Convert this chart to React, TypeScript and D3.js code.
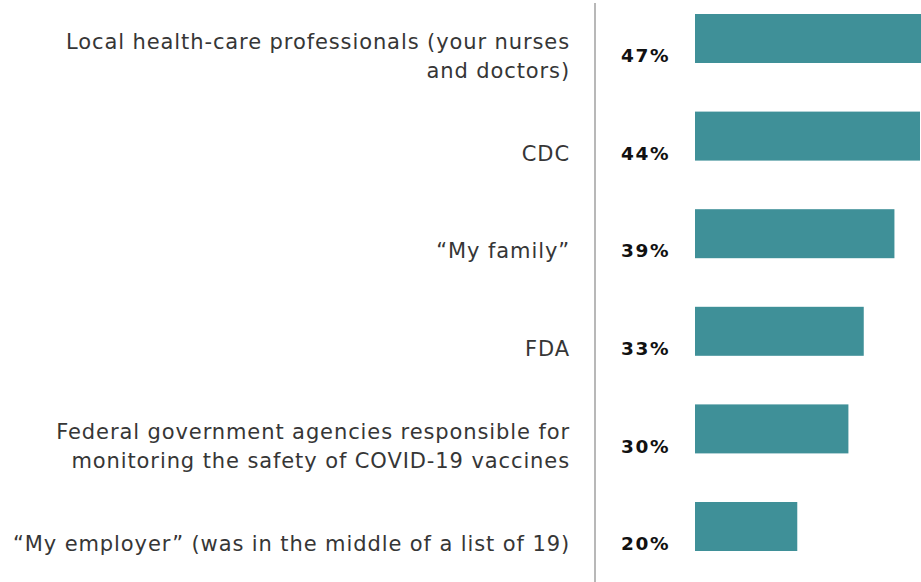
import React from 'react';
import * as d3 from 'd3';

// Survey answers
const categories: string[][] = [
  ['Local health-care professionals (your nurses', 'and doctors)'],
  ['CDC'],
  ['\u201cMy family\u201d'],
  ['FDA'],
  ['Federal government agencies responsible for', 'monitoring the safety of COVID-19 vaccines'],
  ['\u201cMy employer\u201d (was in the middle of a list of 19)'],
];
const values = [47, 44, 39, 33, 30, 20];

const width = 921;
const height = 582;
const barColor = '#3f9098';

const App: React.FC = () => {
  const keys = categories.map((c) => c.join(' '));

  const xScale = d3.scaleLinear().domain([0, 44]).range([695, 920]);
  const yScale = d3.scalePoint<string>().domain(keys).range([38.5, 526.5]);

  const barHeight = 49;
  const labelShift = 17;
  const lineGap = 29;

  return (
    <svg
      width={width}
      height={height}
      style={{ position: 'absolute', left: 0, top: 0, background: '#fff' }}
    >
      <line x1={595} x2={595} y1={3} y2={height} stroke="#a0a0a0" strokeWidth={1.5} />
      {keys.map((k, i) => {
        const cy = yScale(k) ?? 0;
        const lines = categories[i];
        const ly = cy + labelShift;
        return (
          <g key={k}>
            <rect
              x={xScale(0)}
              y={cy - barHeight / 2}
              width={xScale(values[i]) - xScale(0)}
              height={barHeight}
              fill={barColor}
            />
            <text
              x={621}
              y={ly}
              dy="0.36em"
              fontFamily="DejaVu Sans"
              fontWeight={700}
              fontSize={18.5}
              letterSpacing={1.6}
              fill="#111"
            >
              {values[i]}%
            </text>
            {lines.map((t, j) => (
              <text
                key={j}
                x={570}
                y={ly + (j - (lines.length - 1) / 2) * lineGap}
                dy="0.36em"
                textAnchor="end"
                fontFamily="DejaVu Sans"
                fontSize={21}
                letterSpacing={0.9}
                fill="#363636"
              >
                {t}
              </text>
            ))}
          </g>
        );
      })}
    </svg>
  );
};

export default App;
